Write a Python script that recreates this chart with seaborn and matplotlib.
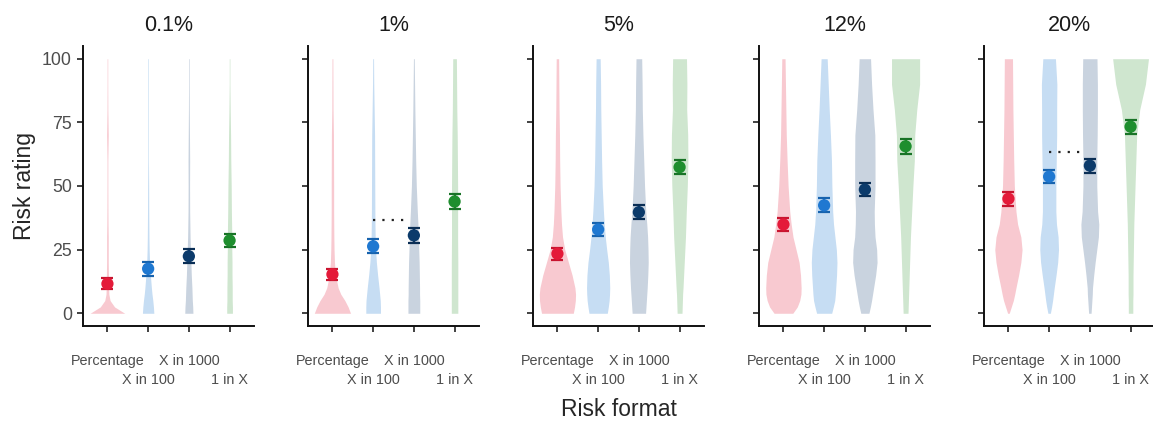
import numpy as np
import pandas as pd
import matplotlib
matplotlib.use("Agg")
import matplotlib.pyplot as plt
import seaborn as sns

# Panels and categories
risk_levels = ["0.1%", "1%", "5%", "12%", "20%"]
formats = ["Percentage", "X in 100", "X in 1000", "1 in X"]

# Mean risk rating per format (one value per risk level) and error bar half-width
mean_percentage = [11.6, 15.3, 23.4, 34.9, 45.0]
mean_x100 = [17.5, 26.3, 32.9, 42.4, 53.7]
mean_x1000 = [22.4, 30.6, 39.7, 48.6, 58.0]
mean_1inx = [28.6, 43.9, 57.4, 65.6, 73.3]
err_percentage = [2.2, 2.2, 2.4, 2.5, 2.7]
err_x100 = [2.7, 2.7, 2.7, 2.7, 2.7]
err_x1000 = [2.7, 2.8, 2.7, 2.7, 2.7]
err_1inx = [2.7, 2.8, 2.7, 2.9, 2.8]

# Dotted comparison lines (X in 100 vs X in 1000)
dotted_levels = ["1%", "20%"]
dotted_y = [36.5, 63.5]

# Violin outlines: full width (in category units) at each rating level
rating_grid = [0, 2.5, 5, 7.5, 10, 15, 20, 25, 30, 35, 40, 50, 60, 70, 80, 90, 100]
violin_01 = [
    [0.85, 0.35, 0.13, 0.07, 0.06, 0.05, 0.04, 0.04, 0.04, 0.03, 0.025, 0.02, 0.02, 0.04, 0.02, 0.015, 0.015],
    [0.28, 0.26, 0.23, 0.19, 0.16, 0.11, 0.07, 0.05, 0.04, 0.035, 0.03, 0.025, 0.015, 0.015, 0.015, 0.015, 0.015],
    [0.20, 0.19, 0.17, 0.16, 0.15, 0.12, 0.10, 0.08, 0.06, 0.05, 0.04, 0.035, 0.04, 0.03, 0.02, 0.015, 0.015],
    [0.14, 0.14, 0.13, 0.13, 0.13, 0.12, 0.12, 0.11, 0.11, 0.10, 0.09, 0.08, 0.06, 0.05, 0.03, 0.015, 0.015],
]
violin_1 = [
    [0.89, 0.77, 0.61, 0.41, 0.28, 0.15, 0.10, 0.08, 0.07, 0.065, 0.06, 0.06, 0.055, 0.05, 0.03, 0.025, 0.02],
    [0.36, 0.36, 0.35, 0.32, 0.29, 0.22, 0.16, 0.12, 0.10, 0.09, 0.085, 0.08, 0.075, 0.07, 0.05, 0.03, 0.02],
    [0.29, 0.29, 0.29, 0.28, 0.28, 0.27, 0.26, 0.24, 0.22, 0.20, 0.17, 0.12, 0.09, 0.07, 0.05, 0.035, 0.02],
    [0.16, 0.16, 0.16, 0.16, 0.16, 0.16, 0.16, 0.155, 0.15, 0.15, 0.15, 0.15, 0.14, 0.13, 0.11, 0.10, 0.09],
]
violin_5 = [
    [0.78, 0.84, 0.88, 0.89, 0.86, 0.72, 0.54, 0.36, 0.25, 0.20, 0.17, 0.13, 0.11, 0.10, 0.08, 0.07, 0.06],
    [0.45, 0.50, 0.54, 0.56, 0.57, 0.55, 0.50, 0.42, 0.35, 0.30, 0.26, 0.20, 0.17, 0.15, 0.13, 0.12, 0.10],
    [0.33, 0.35, 0.37, 0.39, 0.41, 0.44, 0.46, 0.45, 0.43, 0.39, 0.34, 0.28, 0.24, 0.20, 0.17, 0.16, 0.14],
    [0.12, 0.13, 0.14, 0.15, 0.17, 0.20, 0.23, 0.26, 0.29, 0.31, 0.33, 0.38, 0.41, 0.40, 0.35, 0.36, 0.34],
]
violin_12 = [
    [0.46, 0.68, 0.80, 0.86, 0.87, 0.84, 0.77, 0.62, 0.47, 0.38, 0.31, 0.23, 0.18, 0.14, 0.12, 0.10, 0.08],
    [0.37, 0.45, 0.52, 0.55, 0.57, 0.61, 0.63, 0.60, 0.53, 0.46, 0.42, 0.38, 0.36, 0.31, 0.25, 0.20, 0.15],
    [0.20, 0.27, 0.33, 0.38, 0.43, 0.53, 0.60, 0.58, 0.50, 0.47, 0.46, 0.50, 0.50, 0.49, 0.40, 0.33, 0.28],
    [0.12, 0.13, 0.14, 0.15, 0.16, 0.18, 0.20, 0.22, 0.24, 0.27, 0.30, 0.36, 0.43, 0.45, 0.55, 0.69, 0.69],
]
violin_20 = [
    [0.04, 0.14, 0.24, 0.31, 0.37, 0.50, 0.61, 0.67, 0.61, 0.45, 0.37, 0.29, 0.26, 0.24, 0.22, 0.21, 0.20],
    [0.06, 0.12, 0.17, 0.21, 0.25, 0.34, 0.42, 0.46, 0.44, 0.36, 0.33, 0.33, 0.35, 0.37, 0.37, 0.38, 0.31],
    [0.06, 0.08, 0.10, 0.12, 0.13, 0.19, 0.26, 0.34, 0.42, 0.44, 0.38, 0.34, 0.34, 0.36, 0.37, 0.37, 0.35],
    [0.11, 0.11, 0.11, 0.12, 0.12, 0.12, 0.13, 0.14, 0.15, 0.16, 0.18, 0.22, 0.26, 0.30, 0.45, 0.73, 0.88],
]
violins = [violin_01, violin_1, violin_5, violin_12, violin_20]

point_colors = ["#E41A39", "#1F78D1", "#0C3B6B", "#1E8E2E"]
bar_colors = ["#C8142F", "#1763AE", "#0A2E55", "#187326"]
fill_colors = ["#F8C9D0", "#C6DDF3", "#C9D3DF", "#CFE6CF"]

# Long table of the summary points
rows = []
for means, errs, fmt in zip([mean_percentage, mean_x100, mean_x1000, mean_1inx],
                            [err_percentage, err_x100, err_x1000, err_1inx], formats):
    for lvl, m, e in zip(risk_levels, means, errs):
        rows.append({"risk": lvl, "format": fmt, "pos": formats.index(fmt), "mean": m, "err": e})
df = pd.DataFrame(rows)

sns.set_style("ticks")
plt.rcParams["font.family"] = ["Liberation Sans", "DejaVu Sans"]

W, H = 1153, 421
fig = plt.figure(figsize=(W / 100, H / 100), dpi=100)
lefts = [83, 308, 533, 759, 984]
positions = list(range(len(formats)))

for k, lvl in enumerate(risk_levels):
    ax = fig.add_axes([lefts[k] / W, 95 / H, 171 / W, 280 / H])

    # violins
    for i, widths in enumerate(violins[k]):
        w = np.array(widths)
        ax.fill_betweenx(rating_grid, i - w / 2, i + w / 2, color=fill_colors[i], lw=0, zorder=1)

    sub = df[df["risk"] == lvl]
    for i, fmt in enumerate(formats):
        r = sub[sub["format"] == fmt]
        ax.errorbar(r["pos"], r["mean"], yerr=r["err"], fmt="none", ecolor=bar_colors[i],
                    elinewidth=1.6, capsize=4.3, capthick=1.6, zorder=2)
    sns.scatterplot(data=sub, x="pos", y="mean", hue="format", hue_order=formats,
                    palette=point_colors, s=78, linewidth=0, legend=False, ax=ax, zorder=3)

    if lvl in dotted_levels:
        yv = dotted_y[dotted_levels.index(lvl)]
        ax.hlines(yv, formats.index("X in 100"), formats.index("X in 1000") - 0.15,
                  colors="#222222", linestyles=(0, (1, 3.2)), lw=1.6, zorder=2)

    ax.set_xlim(-0.6, 3.6)
    ax.set_ylim(-5, 105)
    ax.set_yticks([0, 25, 50, 75, 100])
    # staggered labels: odd categories on a second row
    ax.set_xticks(positions[0::2])
    ax.set_xticklabels(formats[0::2])
    ax.set_xticks(positions[1::2], minor=True)
    ax.set_xticklabels(formats[1::2], minor=True)
    ax.set_xlabel("")
    ax.set_ylabel("")
    ax.set_title(lvl, fontsize=15.5, pad=11, color="#1a1a1a")
    ax.tick_params(axis="x", which="major", length=4, width=1.3, pad=16, labelsize=10.4,
                   labelcolor="#4D4D4D", color="#333333")
    ax.tick_params(axis="x", which="minor", length=4, width=1.3, pad=29.5, labelsize=10.4,
                   labelcolor="#4D4D4D", color="#333333")
    ax.tick_params(axis="y", length=4, width=1.3, pad=4, labelsize=12.8, labelcolor="#4D4D4D", color="#333333")
    if k > 0:
        ax.tick_params(axis="y", labelleft=False)
    sns.despine(ax=ax)
    for sp in ["left", "bottom"]:
        ax.spines[sp].set_linewidth(1.4)
        ax.spines[sp].set_color("#111111")

fig.text(25 / W, 1 - 186 / H, "Risk rating", rotation=90, ha="center", va="center", fontsize=16.5)
fig.text(619 / W, 1 - 416 / H, "Risk format", ha="center", va="baseline", fontsize=16.5)

fig.savefig("out.png", dpi=100)
